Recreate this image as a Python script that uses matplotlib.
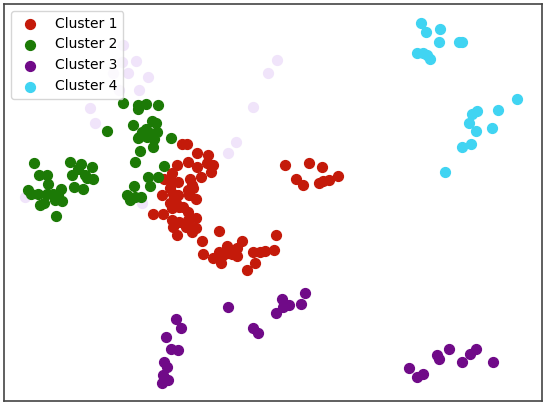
import matplotlib.pyplot as plt

# Cluster 1 (rojo)
c1_x = [181.7, 186.7, 196.7, 207.7, 177.3, 187.7, 196.7, 206.7, 213.3, 211, 201,
        172.3, 164.3, 170.7, 178.3, 190.3, 192.3, 187.7, 193.3, 170, 173.3, 178.3,
        162.3, 189.3, 196, 170, 175.7, 179.3, 183.3, 172.3, 188.3, 153.3, 162.7,
        171.7, 179.3, 188.3, 196, 173.3, 186, 191, 195.7, 176.7, 191.7,
        219.3, 201.7, 275.7, 241.7, 226.7, 236.7, 219.3, 227.7, 222.7, 203.3,
        231.7, 236.7, 213.3, 221, 253.3, 260, 265, 274, 255, 247.3,
        285, 309, 321.7, 295.7, 303.3, 319.3, 323.3, 329.3, 338.3]
c1_y = [144.3, 144.3, 153.3, 155, 164.7, 162.3, 166.7, 163.3, 164.7, 172.3, 177.3,
        173.3, 179.3, 181.7, 182.3, 179.3, 185, 190, 188.3, 188.3, 194.3, 195,
        195, 195, 199, 203.3, 203.3, 206.7, 206.7, 207.7, 211.7, 214, 214,
        220, 221.7, 220, 218.3, 226.7, 226.7, 226.7, 228.3, 235, 231.7,
        231, 241, 235, 241, 245.7, 248.3, 251.7, 252.7, 255, 254.3,
        254, 256, 258.3, 263.3, 251.7, 252.3, 251, 250, 263.3, 270,
        165, 163.3, 167.3, 179.3, 185, 183.3, 180.7, 180, 175.7]

# Cluster 2 (verde)
c2_x = [123.3, 138.3, 146, 158.3, 137.7, 106.7, 133.3, 151.7, 155.7, 141.7, 146,
        150, 156.7, 139.3, 146.7, 154.3, 137.7, 171, 152.7, 140, 135.3,
        34, 70, 81, 78.3, 91.7, 39.3, 46.7, 72, 84.7, 86.7, 92.7, 47.7, 74, 83.3,
        28.3, 31, 37.7, 47.3, 53.3, 60.7, 58.3, 55, 61.7, 44.3, 40, 56,
        147.7, 158.3, 134.3, 150, 126.7, 130, 135, 140.7, 164]
c2_y = [102.7, 105, 104, 105.3, 109.3, 130.7, 125.3, 120.7, 123.3, 131.7, 129.3,
        132.7, 131.7, 136.7, 136.7, 138.7, 138.3, 138.3, 147.3, 150.7, 162,
        162.7, 162, 164, 168.7, 166.7, 175.3, 175.3, 175.3, 175.3, 178.3, 179.3,
        184.3, 187, 189.3, 190, 194, 194.3, 194.3, 194, 189.3, 195, 200, 201,
        203.3, 205, 215.7, 176.7, 177.3, 185.7, 186, 195, 200, 196.7, 196.7, 166]

# Cluster 3 (morado)
c3_x = [227.7, 281.7, 305, 289.3, 283.3, 300.7, 276, 176, 181, 252.7, 258.3,
        165.7, 170.7, 178.3, 164, 166.7, 163.3, 168.3, 161.7,
        409.3, 417.3, 423.3, 436.7, 439.3, 449, 462.3, 470, 476, 492.7]
c3_y = [306.7, 299, 293.3, 305, 307.3, 304.3, 313.3, 319, 327.7, 328.3, 332.7,
        337.3, 349.3, 350, 361.7, 367.3, 375, 380, 383.3,
        367.7, 377.3, 374, 355, 359.3, 349.3, 362.3, 354.3, 349, 361.7]

# Cluster 4 (cian)
c4_x = [420.7, 426, 440.3, 439.3, 458.7, 461.7, 416.7, 423.3, 427.3, 430,
        516.7, 476.7, 471.7, 497.7, 469, 475.7, 492, 462, 471, 445.3]
c4_y = [22.7, 32, 29, 42.3, 42.3, 41.7, 52.7, 52.7, 55, 59.3,
        99.3, 110.7, 114.3, 110, 123.3, 131.3, 128.3, 147.3, 143.7, 172.3]

# puntos tenues (ruido)
ruido_x = [123, 122, 136, 113, 128, 148, 119, 139, 90, 95, 268, 253, 277, 236, 227.7, 141.7, 25]
ruido_y = [45, 62, 61, 73, 73, 77, 90, 90, 108, 123, 73, 107, 60, 141.7, 152.7, 203.3, 196.7]

fig = plt.figure(figsize=(5.5, 4.07), dpi=100)
ax = fig.add_axes([4 / 550, 1 - 401 / 407, 538 / 550, 397 / 407])

ax.scatter(ruido_x, ruido_y, s=50, color='#f0e4fa', zorder=1)
ax.scatter(c1_x, c1_y, s=50, color='#c41a0a', label='Cluster 1', zorder=2)
ax.scatter(c2_x, c2_y, s=50, color='#1c7a06', label='Cluster 2', zorder=2)
ax.scatter(c3_x, c3_y, s=50, color='#700a88', label='Cluster 3', zorder=2)
ax.scatter(c4_x, c4_y, s=50, color='#40d4f2', label='Cluster 4', zorder=2)

ax.set_xlim(4, 542)
ax.set_ylim(401, 4)
ax.set_xticks([])
ax.set_yticks([])
for sp in ax.spines.values():
    sp.set_color('#444444')
    sp.set_linewidth(1.2)

ax.legend(loc='upper left', fontsize=10)

fig.savefig('out.png', dpi=100)
